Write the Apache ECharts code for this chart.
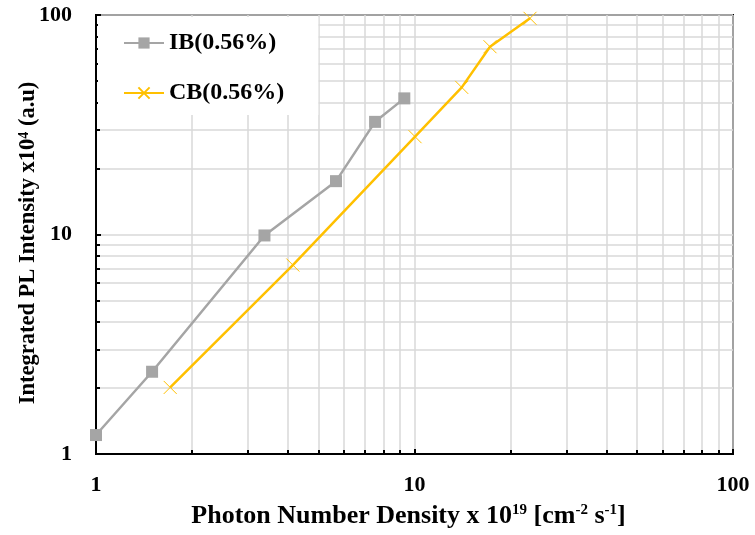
<!DOCTYPE html>
<html>
<head>
<meta charset="utf-8">
<script src="https://cdn.jsdelivr.net/npm/echarts@6/dist/echarts.min.js"></script>
<style>html,body{margin:0;padding:0;background:#fff;}#c{width:755px;height:535px;}</style>
</head>
<body>
<div id="c"></div>
<script>
// Data (log-log)
var ibX = [1.0, 1.5, 3.38, 5.67, 7.52, 9.29];
var ibY = [1.22, 2.37, 9.9, 17.5, 32.6, 41.7];
var cbX = [1.71, 4.15, 10.04, 14.07, 17.26, 23.05];
var cbY = [2.01, 7.26, 27.9, 46.8, 71.7, 96.6];
var seriesNames = ['IB(0.56%)', 'CB(0.56%)'];
var xTicks = [1, 10, 100];
var yTicks = [1, 10, 100];

function pairs(xs, ys) { return xs.map(function (x, i) { return [x, ys[i]]; }); }

var FONT = "'Liberation Serif', 'Times New Roman', serif";
var gridColor = '#d9d9d9';

var chart = echarts.init(document.getElementById('c'), null, { renderer: 'canvas' });
chart.setOption({
  animation: false,
  backgroundColor: '#fff',
  grid: { left: 96, right: 22, top: 15, bottom: 81, containLabel: false, outerBoundsMode: 'none',
          show: true, borderColor: '#000', borderWidth: 2, backgroundColor: 'transparent' },
  legend: {
    data: seriesNames,
    orient: 'vertical',
    left: 98, top: 17,
    padding: [14, 34, 10, 25],
    itemGap: 26,
    itemWidth: 40, itemHeight: 14,
    backgroundColor: '#fff',
    textStyle: { fontFamily: FONT, fontWeight: 'bold', fontSize: 24, color: '#000' }
  },
  xAxis: {
    type: 'log', logBase: 10, min: xTicks[0], max: xTicks[xTicks.length - 1], interval: 1,
    name: '{a|Photon Number Density x 10}{s|19}{a| [cm}{s|-2}{a| s}{s|-1}{a|]}',
    nameLocation: 'middle', nameGap: 49, nameMoveOverlap: false,
    nameTextStyle: {
      padding: [0, 12, 0, 0],
      rich: {
        a: { fontFamily: FONT, fontWeight: 'bold', fontSize: 26, color: '#000' },
        s: { fontFamily: FONT, fontWeight: 'bold', fontSize: 15, color: '#000', verticalAlign: 'top', padding: [0, 0, 9, 0] }
      }
    },
    axisLine: { show: true, lineStyle: { color: '#000', width: 2 } },
    axisTick: { show: true, inside: true, length: 5, lineStyle: { color: '#000', width: 2 } },
    minorTick: { show: true, splitNumber: 9, length: 4, lineStyle: { color: '#000', width: 2 } },
    axisLabel: { fontFamily: FONT, fontWeight: 'bold', fontSize: 22, color: '#000', margin: 20 },
    splitLine: { show: true, lineStyle: { color: gridColor, width: 1.5 } },
    minorSplitLine: { show: true, lineStyle: { color: gridColor, width: 1.5 } }
  },
  yAxis: {
    type: 'log', logBase: 10, min: yTicks[0], max: yTicks[yTicks.length - 1], interval: 1,
    name: '{a|Integrated PL Intensity x10}{s|4}{a| (a.u)}',
    nameLocation: 'middle', nameGap: 56, nameRotate: 90, nameMoveOverlap: false,
    nameTextStyle: {
      padding: [0, 17, 0, 0],
      rich: {
        a: { fontFamily: FONT, fontWeight: 'bold', fontSize: 22.5, color: '#000' },
        s: { fontFamily: FONT, fontWeight: 'bold', fontSize: 14, color: '#000', verticalAlign: 'top', padding: [0, 0, 8, 0] }
      }
    },
    axisLine: { show: true, lineStyle: { color: '#000', width: 2 } },
    axisTick: { show: true, inside: true, length: 5, lineStyle: { color: '#000', width: 2 } },
    minorTick: { show: true, splitNumber: 9, length: 4, lineStyle: { color: '#000', width: 2 } },
    axisLabel: { fontFamily: FONT, fontWeight: 'bold', fontSize: 22, color: '#000', margin: 24 },
    splitLine: { show: true, lineStyle: { color: gridColor, width: 1.5 } },
    minorSplitLine: { show: true, lineStyle: { color: gridColor, width: 1.5 } }
  },
  series: [
    {
      name: seriesNames[0], type: 'line', data: pairs(ibX, ibY),
      symbol: 'rect', symbolSize: 12,
      lineStyle: { color: '#a5a5a5', width: 2.5 },
      itemStyle: { color: '#a5a5a5' }
    },
    {
      name: seriesNames[1], type: 'line', data: pairs(cbX, cbY),
      symbol: 'path://M0,0L10,10M10,0L0,10', symbolSize: 13,
      lineStyle: { color: '#ffc000', width: 2.5 },
      itemStyle: { color: 'none', borderColor: '#ffc000', borderWidth: 1 }
    }
  ]
});
</script>
</body>
</html>
